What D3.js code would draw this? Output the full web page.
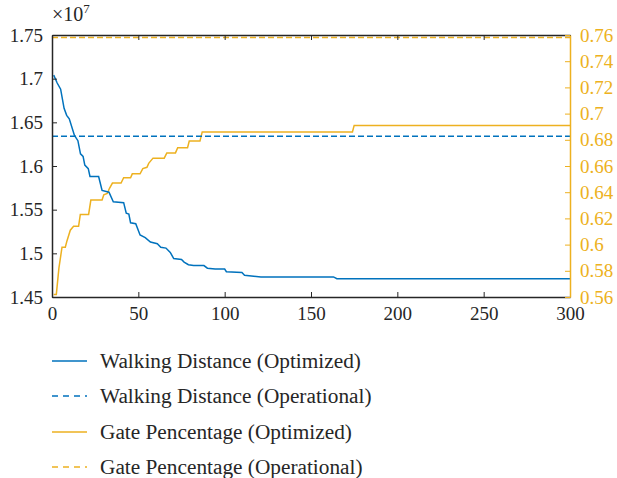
<!DOCTYPE html>
<html>
<head>
<meta charset="utf-8">
<script src="https://cdn.jsdelivr.net/npm/d3@7"></script>
<style>
  body { margin: 0; background: #fff; }
  text { font-family: "Liberation Serif", "DejaVu Serif", serif; }
</style>
</head>
<body>
<div id="chart"></div>
<script>
const width = 617;
const height = 478;

// walking distance (x 1e7), optimized run
const walkIter = [1, 3, 5, 7, 8.5, 10, 13, 15, 16.5, 18, 19, 21, 22, 27, 29, 33, 35.5, 41.5, 43, 44.5, 45.5, 48.5, 51, 54, 57, 61, 63, 66, 68.5, 70.5, 75, 76.5, 79, 82, 88, 90, 94.5, 100, 101, 110, 111.5, 121, 163, 165, 300];
const walkValue = [1.704, 1.695, 1.688, 1.666, 1.658, 1.654, 1.635, 1.629, 1.614, 1.611, 1.601, 1.597, 1.588, 1.588, 1.572, 1.570, 1.559, 1.558, 1.546, 1.545, 1.535, 1.534, 1.521, 1.518, 1.513, 1.511, 1.507, 1.506, 1.501, 1.494, 1.493, 1.490, 1.487, 1.486, 1.486, 1.483, 1.482, 1.482, 1.479, 1.478, 1.475, 1.473, 1.473, 1.471, 1.471];
const walkOperational = 1.634;

// gate percentage, optimized run
const gateIter = [1, 2.5, 4, 5.8, 7.7, 8.7, 10.6, 12.5, 15.4, 16.4, 21.2, 22.5, 29, 30, 32, 33.3, 35, 40, 41.5, 45.5, 46.5, 51, 52.6, 55, 56, 58.5, 65, 66.5, 71.5, 72.8, 78.5, 79.5, 85.7, 87, 174, 175, 300];
const gateValue = [0.562, 0.562, 0.582, 0.598, 0.598, 0.603, 0.611, 0.614, 0.614, 0.623, 0.623, 0.634, 0.634, 0.638, 0.639, 0.643, 0.647, 0.647, 0.651, 0.651, 0.654, 0.654, 0.658, 0.659, 0.662, 0.666, 0.666, 0.670, 0.670, 0.674, 0.674, 0.679, 0.679, 0.686, 0.686, 0.691, 0.691];
const gateOperational = 0.758;

const xTicks = [0, 50, 100, 150, 200, 250, 300];
const leftTicks = [1.45, 1.5, 1.55, 1.6, 1.65, 1.7, 1.75];
const rightTicks = [0.56, 0.58, 0.6, 0.62, 0.64, 0.66, 0.68, 0.7, 0.72, 0.74, 0.76];

const legendLabels = [
    "Walking Distance (Optimized)",
    "Walking Distance (Operational)",
    "Gate Pencentage (Optimized)",
    "Gate Pencentage (Operational)"
];

const blue = "#0072BD";
const orange = "#EDB120";
const axisColor = "#262626";
const serif = "'Liberation Serif', 'DejaVu Serif', serif";

const plot = { left: 52, right: 570, top: 35, bottom: 297 };

const svg = d3.select("#chart").append("svg")
    .attr("width", width)
    .attr("height", height);

const x = d3.scaleLinear().domain([0, 300]).range([plot.left, plot.right]);
const yLeft = d3.scaleLinear().domain([1.45, 1.75]).range([plot.bottom, plot.top]);
const yRight = d3.scaleLinear().domain([0.56, 0.76]).range([plot.bottom, plot.top]);

const walkData = walkIter.map((d, i) => [d, walkValue[i]]);
const gateData = gateIter.map((d, i) => [d, gateValue[i]]);

const walkLine = d3.line().x(d => x(d[0])).y(d => yLeft(d[1]));
const gateLine = d3.line().x(d => x(d[0])).y(d => yRight(d[1]));

// data lines
svg.append("path")
    .datum(gateData)
    .attr("fill", "none")
    .attr("stroke", orange)
    .attr("stroke-width", 1.5)
    .attr("d", gateLine);

svg.append("line")
    .attr("x1", x(0)).attr("x2", x(300))
    .attr("y1", yRight(gateOperational)).attr("y2", yRight(gateOperational))
    .attr("stroke", orange)
    .attr("stroke-width", 1.5)
    .attr("stroke-dasharray", "6,3");

svg.append("line")
    .attr("x1", x(0)).attr("x2", x(300))
    .attr("y1", yLeft(walkOperational)).attr("y2", yLeft(walkOperational))
    .attr("stroke", blue)
    .attr("stroke-width", 1.5)
    .attr("stroke-dasharray", "6,3");

svg.append("path")
    .datum(walkData)
    .attr("fill", "none")
    .attr("stroke", blue)
    .attr("stroke-width", 1.5)
    .attr("d", walkLine);

// axes (ticks pointing inward, like a boxed matlab plot)
const bottomAxis = svg.append("g")
    .attr("transform", `translate(0,${plot.bottom})`)
    .call(d3.axisBottom(x).tickValues(xTicks).tickSizeInner(-5).tickSizeOuter(0).tickPadding(10));

const topAxis = svg.append("g")
    .attr("transform", `translate(0,${plot.top})`)
    .call(d3.axisTop(x).tickValues(xTicks).tickSizeInner(-5).tickSizeOuter(0).tickFormat(""));

const leftAxis = svg.append("g")
    .attr("transform", `translate(${plot.left},0)`)
    .call(d3.axisLeft(yLeft).tickValues(leftTicks).tickSizeInner(-5).tickSizeOuter(0).tickPadding(9)
        .tickFormat(d3.format("~g")));

const rightAxis = svg.append("g")
    .attr("transform", `translate(${plot.right},0)`)
    .call(d3.axisRight(yRight).tickValues(rightTicks).tickSizeInner(-5).tickSizeOuter(0).tickPadding(10)
        .tickFormat(d3.format("~g")));

[bottomAxis, topAxis, leftAxis, rightAxis].forEach(g => {
    g.attr("font-family", serif).attr("font-size", 19);
    g.selectAll(".tick text").style("font-family", serif).style("font-size", "19px");
});

[bottomAxis, topAxis, leftAxis].forEach(g => {
    g.select(".domain").attr("stroke", axisColor).attr("stroke-width", 1.5);
    g.selectAll(".tick line").attr("stroke", axisColor).attr("stroke-width", 1);
    g.selectAll(".tick text").attr("fill", axisColor);
});
rightAxis.select(".domain").attr("stroke", orange).attr("stroke-width", 1.5);
rightAxis.selectAll(".tick line").attr("stroke", orange);
rightAxis.selectAll(".tick text").attr("fill", orange);
topAxis.select(".domain").attr("stroke", axisColor);

// exponent label
const expo = svg.append("text")
    .attr("x", plot.left)
    .attr("y", 21)
    .attr("fill", axisColor)
    .style("font-size", "20px");
expo.append("tspan").text("\u00d710");
expo.append("tspan").attr("dy", -8).style("font-size", "13px").text("7");

// legend
const legendY = [361, 396, 432, 467];
const legendColors = [blue, blue, orange, orange];
const legendDash = [null, "6,5", null, "6,5"];

const legend = svg.append("g");
legendLabels.forEach((label, i) => {
    legend.append("line")
        .attr("x1", 52).attr("x2", 87)
        .attr("y1", legendY[i]).attr("y2", legendY[i])
        .attr("stroke", legendColors[i])
        .attr("stroke-width", 1.5)
        .attr("stroke-dasharray", legendDash[i]);
    legend.append("text")
        .attr("x", 100)
        .attr("y", legendY[i] + 7)
        .attr("fill", axisColor)
        .style("font-size", "21.3px")
        .text(label);
});
</script>
</body>
</html>
